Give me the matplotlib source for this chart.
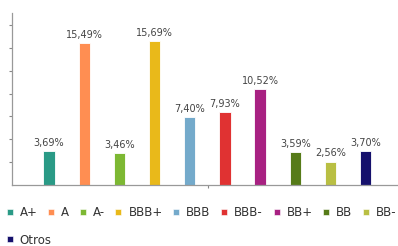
import matplotlib.pyplot as plt
from matplotlib.lines import Line2D
import numpy as np

## DATA
categories = ['A+', 'A', 'A-', 'BBB+', 'BBB', 'BBB-', 'BB+', 'BB', 'BB-', 'Otros']
values = [3.69, 15.49, 3.46, 15.69, 7.40, 7.93, 10.52, 3.59, 2.56, 3.70]
colors = ['#2a9a86', '#ff8e52', '#7db833', '#e9b91a', '#74aacb',
          '#e03232', '#a82182', '#567b18', '#b9bf43', '#15106c']
legend_labels = ['A+', 'A', 'A-', 'BBB+', 'BBB', 'BBB-', 'BB+', 'BB', 'BB-', 'Otros']

## FIGURE
fig = plt.figure(figsize=(3.98, 2.46), dpi=100)
ax = fig.add_axes([12/398, 1 - 185/246, 1 - 12/398, 172/246])

x = np.arange(len(categories))
bars = ax.bar(x, values, width=0.32, color=colors, edgecolor='white', linewidth=0.6)

for xi, v in zip(x, values):
    ax.text(xi, v + 0.35, ('%.2f' % v).replace('.', ',') + '%',
            ha='center', va='bottom', fontsize=7, color='#444444')

ax.set_xlim(-1.05, 9.92)
ax.set_ylim(0, 18.8)
ax.set_yticks(np.arange(2.5, 18.8, 2.5))
ax.set_yticklabels([])
ax.set_xticks([4.52])
ax.set_xticklabels([])
ax.tick_params(axis='both', length=2.5, width=0.8, color='#888888')
for s in ['top', 'right']:
    ax.spines[s].set_visible(False)
for s in ['left', 'bottom']:
    ax.spines[s].set_color('#999999')
    ax.spines[s].set_linewidth(0.9)

## LEGEND (two rows)
handles = [Line2D([], [], marker='s', linestyle='none', markersize=4.8,
                  markerfacecolor=c, markeredgecolor='white', markeredgewidth=0.4)
           for c in colors]
leg_kw = dict(frameon=False, fontsize=8.5, handlelength=0.6, handletextpad=0.55,
              columnspacing=0.85, borderpad=0, borderaxespad=0, labelcolor='#333333')
leg1 = fig.legend(handles[:9], legend_labels[:9], ncol=9, loc='center left',
                  bbox_to_anchor=(6/398, 1 - 213/246), **leg_kw)
leg2 = fig.legend(handles[9:], legend_labels[9:], ncol=1, loc='center left',
                  bbox_to_anchor=(6/398, 1 - 240/246), **leg_kw)

fig.savefig('out.png', dpi=100)
